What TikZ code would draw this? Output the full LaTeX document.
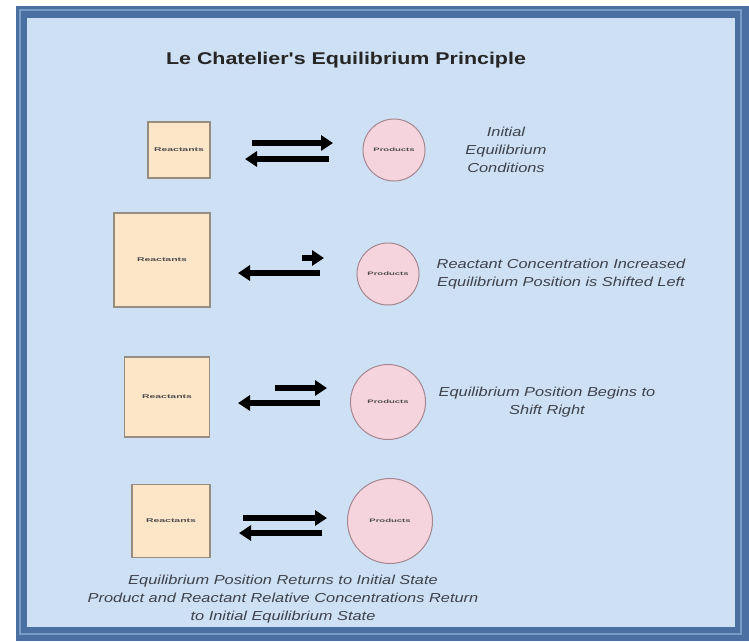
\documentclass[tikz,border=0pt]{standalone}
\usepackage{fontspec}
\setmainfont{Liberation Sans}
\newfontfamily\widesans[FakeStretch=1.26]{Liberation Sans}
\newfontfamily\tinysans[FakeStretch=1.9]{Liberation Sans}
\usepackage{tikz}
\usetikzlibrary{positioning}
\usetikzlibrary{arrows.meta}

\definecolor{frameblue}{RGB}{74,112,162}
\definecolor{frameline}{RGB}{120,155,200}
\definecolor{panelblue}{RGB}{206,224,243}
\definecolor{peach}{RGB}{253,229,200}
\definecolor{boxline}{RGB}{150,140,128}
\definecolor{pinkfill}{RGB}{246,212,222}
\definecolor{pinkline}{RGB}{165,135,145}
\definecolor{notegray}{RGB}{62,66,76}

\tikzset{
  reactbox/.style={draw=boxline, line width=1.2pt, fill=peach, inner sep=0pt,
    font=\tinysans\fontsize{5.5}{6}\selectfont\bfseries, text=black!70},
  prodcirc/.style={draw=pinkline, line width=1pt, fill=pinkfill, circle, inner sep=0pt,
    font=\tinysans\fontsize{5}{6}\selectfont\bfseries, text=black!70},
  note/.style={align=center, text=notegray, font=\widesans\fontsize{13}{18}\selectfont\itshape},
  eqarrow/.style={line width=6pt, -{Triangle[length=12pt,width=15pt]}}
}

\begin{document}
\begin{tikzpicture}[x=1pt, y=-1pt]
          \useasboundingbox (0,0) rectangle (749,641);
          \fill[white] (0,0) rectangle (749,641);
          % Frame
          \fill[frameblue] (16,6) rectangle (749,641);
          \draw[frameline, line width=2pt] (20,10) rectangle (741,634);
          \fill[panelblue] (27,18) rectangle (735,627);

          % Title
          \node[font=\widesans\fontsize{17}{20}\selectfont\bfseries, text=black!85] (title) at (346,60) {Le Chatelier's Equilibrium Principle};

          % Nodos
          \node[reactbox, minimum width=62pt, minimum height=56pt] (r1) at (179,150) {Reactants};
          \node[reactbox, minimum width=96pt, minimum height=94pt] (r2) at (162,260) {Reactants};
          \node[reactbox, minimum width=85pt, minimum height=80pt] (r3) at (167,397) {Reactants};
          \node[reactbox, minimum width=78pt, minimum height=73pt] (r4) at (171,521) {Reactants};

          \node[prodcirc, minimum size=62pt] (p1) at (394,150) {Products};
          \node[prodcirc, minimum size=62pt] (p2) at (388,274) {Products};
          \node[prodcirc, minimum size=75pt] (p3) at (388,402) {Products};
          \node[prodcirc, minimum size=85pt] (p4) at (390,521) {Products};

          \node[note] (n1) at (506,150) {Initial\\Equilibrium\\Conditions};
          \node[note] (n2) at (561,274) {Reactant Concentration Increased\\Equilibrium Position is Shifted Left};
          \node[note] (n3) at (547,402) {Equilibrium Position Begins to\\Shift Right};
          \node[note] (n4) at (283,599) {Equilibrium Position Returns to Initial State\\Product and Reactant Relative Concentrations Return\\to Initial Equilibrium State};

          % Flechas
          \coordinate (f1a) at (252,143);
          \coordinate (f1b) at (333,143);
          \coordinate (b1a) at (329,159);
          \coordinate (b1b) at (245,159);
          \coordinate (f2a) at (302,258);
          \coordinate (f2b) at (324,258);
          \coordinate (b2a) at (320,273);
          \coordinate (b2b) at (238,273);
          \coordinate (f3a) at (275,388);
          \coordinate (f3b) at (327,388);
          \coordinate (b3a) at (320,403);
          \coordinate (b3b) at (238,403);
          \coordinate (f4a) at (243,518);
          \coordinate (f4b) at (327,518);
          \coordinate (b4a) at (322,533);
          \coordinate (b4b) at (239,533);

          \draw[eqarrow] (f1a) -- (f1b);
          \draw[eqarrow] (b1a) -- (b1b);
          \draw[eqarrow] (f2a) -- (f2b);
          \draw[eqarrow] (b2a) -- (b2b);
          \draw[eqarrow] (f3a) -- (f3b);
          \draw[eqarrow] (b3a) -- (b3b);
          \draw[eqarrow] (f4a) -- (f4b);
          \draw[eqarrow] (b4a) -- (b4b);
        \end{tikzpicture}
\end{document}
